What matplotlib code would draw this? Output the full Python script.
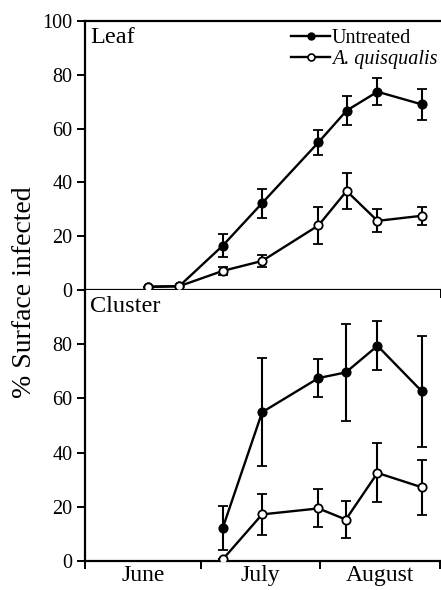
import matplotlib
matplotlib.use("Agg")
import matplotlib.pyplot as plt
from matplotlib.lines import Line2D

plt.rcParams["font.family"] = ["Liberation Serif", "DejaVu Serif"]

# days counted from June 1
leaf_days = [16.4, 24.4, 35.7, 45.9, 60.5, 67.8, 75.8, 87.3]
leaf_untreated = [1.2, 1.4, 16.5, 32.3, 54.9, 66.7, 73.7, 69.0]
leaf_untreated_err = [0, 0, 4.2, 5.4, 4.7, 5.4, 5.0, 5.7]
leaf_aq = [1.2, 1.4, 7.1, 10.8, 24.0, 36.8, 25.7, 27.6]
leaf_aq_err = [0, 0, 1.5, 2.3, 6.8, 6.8, 4.3, 3.3]

cluster_days = [35.7, 45.9, 60.5, 67.6, 75.8, 87.3]
cluster_untreated = [12.2, 54.9, 67.5, 69.6, 79.4, 62.6]
cluster_untreated_err = [8.2, 20.0, 7.0, 18.0, 9.0, 20.5]
cluster_aq = [0.6, 17.2, 19.4, 15.3, 32.5, 27.2]
cluster_aq_err = [0, 7.6, 7.0, 6.7, 10.9, 10.2]

month_edges = [0, 30, 61, 92]
month_names = ["June", "July", "August"]

fig = plt.figure(figsize=(4.41, 5.9), dpi=100)
ax1 = fig.add_axes([85 / 441, 1 - 290 / 590, 355 / 441, 269 / 590])
ax2 = fig.add_axes([85 / 441, 1 - 561 / 590, 355 / 441, 271 / 590])

style = dict(color="black", lw=1.7, elinewidth=1.5, capsize=3.8, capthick=1.5,
             marker="o", ms=6, mec="black", mew=1.3)


def draw(ax, days, u, ue, q, qe):
    ax.errorbar(days, u, yerr=ue, mfc="black", zorder=2, **style)
    ax.errorbar(days, q, yerr=qe, mfc="white", zorder=3, **style)


draw(ax1, leaf_days, leaf_untreated, leaf_untreated_err, leaf_aq, leaf_aq_err)
draw(ax2, cluster_days, cluster_untreated, cluster_untreated_err, cluster_aq, cluster_aq_err)

for ax in (ax1, ax2):
    ax.set_xlim(month_edges[0], month_edges[-1])
    ax.set_ylim(0, 100)
    ax.spines["right"].set_visible(False)
    for s in ax.spines.values():
        s.set_linewidth(1.6)
    ax.set_xticks(month_edges)
    ax.tick_params(axis="both", which="major", direction="out", length=6, width=1.4,
                   labelsize=14.5, pad=3)

ax1.set_yticks([0, 20, 40, 60, 80, 100])
ax1.tick_params(axis="x", labelbottom=False)
ax2.set_yticks([0, 20, 40, 60, 80])
ax2.spines["top"].set_visible(False)
ax2.set_xticklabels([])
centers = [(a + b) / 2 for a, b in zip(month_edges[:-1], month_edges[1:])]
ax2.set_xticks(centers, minor=True)
ax2.set_xticklabels(month_names, minor=True)
ax2.tick_params(axis="x", which="minor", length=0, labelsize=17, pad=3)

ax1.text(0.015, 0.94, "Leaf", transform=ax1.transAxes, fontsize=17.5, va="center", ha="left")
ax2.text(0.015, 0.94, "Cluster", transform=ax2.transAxes, fontsize=17.5, va="center", ha="left")

handles = [
    Line2D([], [], color="black", lw=1.7, marker="o", ms=5, mfc="black", mec="black"),
    Line2D([], [], color="black", lw=1.7, marker="o", ms=5, mfc="white", mec="black", mew=1.2),
]
leg = ax1.legend(handles, ["Untreated", "A. quisqualis"], loc="upper right",
                 bbox_to_anchor=(1.012, 0.995),
                 frameon=False, fontsize=14.5, handlelength=1.9, handletextpad=0.1,
                 labelspacing=0.05, borderaxespad=0.0, borderpad=0.35)
leg.get_texts()[1].set_style("italic")

fig.text(25 / 441, 1 - 292 / 590, "% Surface infected", rotation=90, fontsize=20,
         ha="center", va="center")

fig.savefig("out.png", dpi=100)
